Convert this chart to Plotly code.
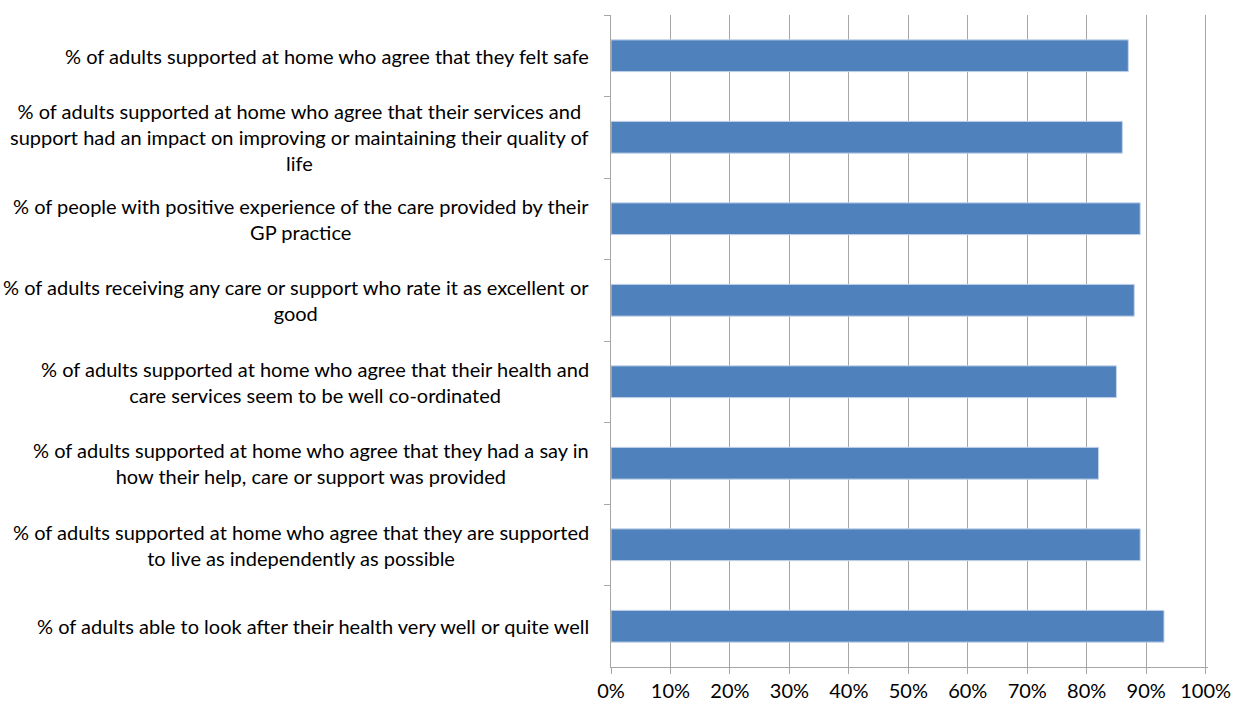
import plotly.graph_objects as go

categories = [
    "% of adults supported at home who agree that they felt safe",
    "% of adults supported at home who agree that their services and<br>support had an impact on improving or maintaining their quality of<br>life",
    "% of people with positive experience of the care provided by their<br>GP practice",
    "% of adults receiving any care or support who rate it as excellent or<br>good",
    "% of adults supported at home who agree that their health and<br>care services seem to be well co-ordinated",
    "% of adults supported at home who agree that they had a say in<br>how their help, care or support was provided",
    "% of adults supported at home who agree that they are supported<br>to live as independently as possible",
    "% of adults able to look after their health very well or quite well",
]
values = [0.87, 0.86, 0.89, 0.88, 0.85, 0.82, 0.89, 0.93]
x_ticks = [0, 0.1, 0.2, 0.3, 0.4, 0.5, 0.6, 0.7, 0.8, 0.9, 1.0]
x_tick_labels = ["0%", "10%", "20%", "30%", "40%", "50%", "60%", "70%", "80%", "90%", "100%"]

FONT = "Lato"

fig = go.Figure()
fig.add_trace(go.Bar(
    x=values,
    y=categories,
    orientation="h",
    marker=dict(color="#4F81BD", line=dict(color="#C5D5EA", width=1)),
    width=0.39,
    hoverinfo="x+y",
))

annotations = []
for c in categories:
    annotations.append(dict(
        x=0, xref="paper", y=c, yref="y",
        text=c, showarrow=False, xanchor="right", yanchor="middle",
        xshift=-20, align="center",
        font=dict(family=FONT, size=20, color="#000000"),
    ))

fig.update_layout(
    width=1235, height=707,
    margin=dict(l=611, r=27, t=15, b=40, autoexpand=False),
    paper_bgcolor="white", plot_bgcolor="white",
    showlegend=False,
    annotations=annotations,
    bargap=0.61,
)
fig.update_xaxes(
    range=[0, 1.004],
    tickvals=x_ticks, ticktext=x_tick_labels,
    showgrid=True, gridcolor="#A6A6A6", gridwidth=1,
    showline=True, linecolor="#A6A6A6", linewidth=1,
    ticks="outside", ticklen=6, tickcolor="#A6A6A6",
    tickfont=dict(family=FONT, size=20, color="#000000"),
    zeroline=False, mirror=False, automargin=False,
    ticklabeloverflow="allow",
)
fig.update_yaxes(
    categoryorder="array", categoryarray=categories,
    autorange="reversed",
    showticklabels=False,
    showline=True, linecolor="#A6A6A6", linewidth=1,
    ticks="outside", ticklen=6, tickcolor="#A6A6A6", tickson="boundaries",
    showgrid=False, zeroline=False, automargin=False,
)

fig.write_html("out.html")
